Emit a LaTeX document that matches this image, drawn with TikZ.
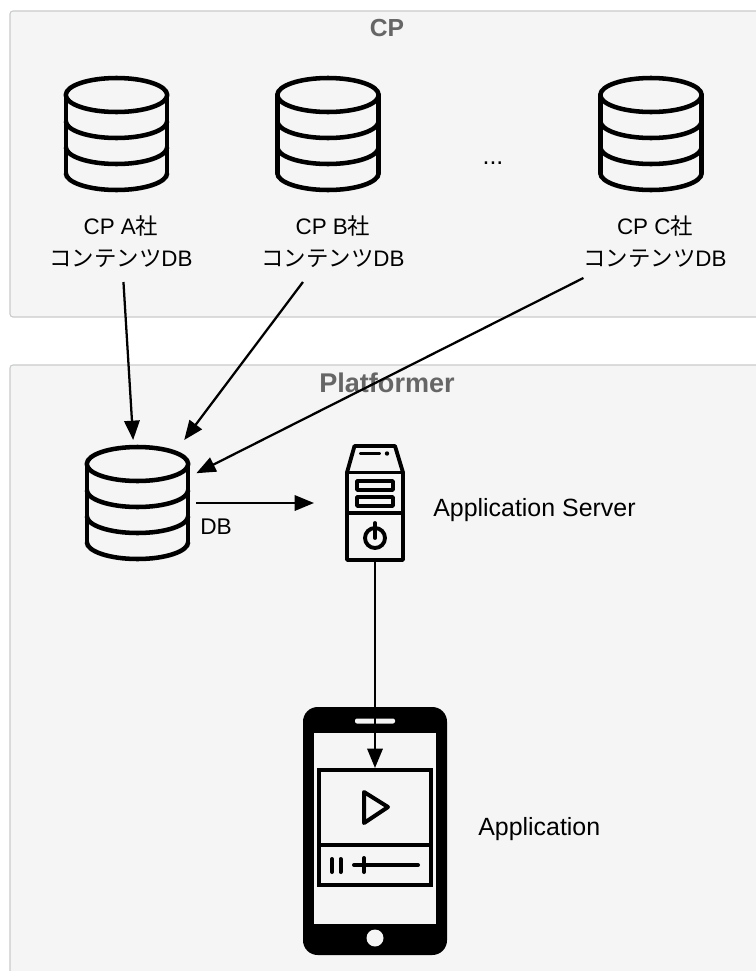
\documentclass[tikz,border=0pt]{standalone}
\usepackage{fontspec}
\setmainfont{Liberation Sans}
\newfontfamily\jp{Noto Sans CJK JP}
\usetikzlibrary{arrows.meta}
\tikzset{
  x=0.75pt,y=-0.75pt,
  panel/.style={draw=panelline,fill=panelfill,line width=0.8pt,rounded corners=2.2pt},
  paneltitle/.style={font=\fontsize{18.5pt}{20pt}\selectfont\bfseries,text=titlegrey,inner sep=0pt},
  lbl/.style={font=\fontsize{18.7pt}{24pt}\selectfont,inner sep=0pt,text=black},
  cplabel/.style={font=\fontsize{16.8pt}{24pt}\selectfont,align=center,inner sep=0pt,outer sep=0pt,minimum width=106.5pt,minimum height=60pt},
  iconbox/.style={inner sep=0pt,outer sep=0pt,draw=none},
  conn/.style={line width=1.7pt,-{Triangle[length=14.5pt,width=11.5pt]}},
  icon/.style={line width=3.4pt,line join=round,line cap=round},
  band/.style={line width=3.4pt,line cap=butt},
  thin icon/.style={line width=2.9pt,line join=round,line cap=round},
  pics/dbicon/.style={code={
    \draw[icon] (0,0) ellipse[x radius=50.7,y radius=17];
    \draw[icon] (-50.7,0) -- (-50.7,78);
    \draw[icon] (50.7,0) -- (50.7,78);
    \draw[band] (-50.7,26) .. controls (-50.7,35.4) and (-28,43) .. (0,43) .. controls (28,43) and (50.7,35.4) .. (50.7,26);
    \draw[band] (-50.7,52) .. controls (-50.7,61.4) and (-28,69) .. (0,69) .. controls (28,69) and (50.7,61.4) .. (50.7,52);
    \draw[band] (-50.7,78) .. controls (-50.7,87.4) and (-28,95) .. (0,95) .. controls (28,95) and (50.7,87.4) .. (50.7,78);
  }}
}
\definecolor{panelline}{HTML}{C9CCCC}
\definecolor{panelfill}{HTML}{F5F5F5}
\definecolor{titlegrey}{HTML}{666666}
\begin{document}
\begin{tikzpicture}
\useasboundingbox (0,0) rectangle (756,971);
\clip (0,0) rectangle (756,971);
\fill[white] (0,0) rectangle (756,971);
% panels
\draw[panel] (10,11) rectangle (790,317);
\draw[panel] (10,365) rectangle (790,1010);
\node[paneltitle] (cptitle) at (387,28) {CP};
\node[paneltitle,font=\fontsize{20.3pt}{22pt}\selectfont\bfseries] (pftitle) at (387,383) {Platformer};
% top databases
\pic at (116.5,95) {dbicon};
\pic at (328,95) {dbicon};
\pic at (651,95) {dbicon};
\node[lbl] (dots) at (493,163) {...};
\node[cplabel] (cpa) at (121,242) {CP A{\jp 社}\\{\jp コンテンツ}DB};
\node[cplabel] (cpb) at (333,242) {CP B{\jp 社}\\{\jp コンテンツ}DB};
\node[cplabel] (cpc) at (655,242) {CP C{\jp 社}\\{\jp コンテンツ}DB};
% platform database
\pic at (137.5,464) {dbicon};
\node[iconbox,minimum width=89pt,minimum height=94.5pt] (pfdb) at (137,503) {};
\node[lbl,anchor=west,font=\fontsize{17pt}{24pt}\selectfont] (dblabel) at (200,527) {DB};
% server
\node[iconbox,minimum width=91.5pt,minimum height=88.5pt] (server) at (375,503) {};
\draw[thin icon] (354.5,446) -- (395,446) -- (403,472.5) -- (403,560) -- (347,560) -- (347,472.5) -- cycle;
\draw[thin icon] (347,472.5) -- (403,472.5);
\draw[thin icon] (347,513) -- (403,513);
\draw[thin icon] (361,453.5) -- (379,453.5);
\fill (387,453.5) circle[radius=2.2];
\draw[line width=2.7pt,line join=round] (357,481) rectangle (393,490);
\draw[line width=2.7pt,line join=round] (357,497) rectangle (393,506);
\draw[thin icon] (375,538) circle[radius=10];
\draw[thin icon] (375,523) -- (375,538);
\node[lbl,anchor=west] (serverlabel) at (433,510) {Application Server};
% phone
\fill[black,rounded corners=11pt] (303,707) rectangle (447,955);
\fill[panelfill] (314,733) rectangle (436,924);
\fill[panelfill,rounded corners=1.5pt] (355,718.5) rectangle (395,723.5);
\fill[panelfill] (375,938) circle[radius=8.5];
\node[iconbox,minimum width=87pt,minimum height=89.25pt] (player) at (375,827.5) {};
\draw[line width=3pt] (319,770) rectangle (431,885);
\draw[line width=3pt] (319,845) -- (431,845);
\draw[icon,line width=3pt] (364,792) -- (364,823) -- (388,807) -- cycle;
\draw[icon,line width=3pt] (332,859) -- (332,872);
\draw[icon,line width=3pt] (340.5,859) -- (340.5,872);
\draw[icon,line width=3pt] (354,865) -- (418,865);
\draw[icon,line width=3pt] (364,858) -- (364,872);
\node[lbl,anchor=west] (applabel) at (478,829) {Application};
% connectors
\draw[conn] (cpa) -- (pfdb);
\draw[conn] (cpb) -- (pfdb);
\draw[conn] (cpc) -- (pfdb);
\draw[conn] (pfdb) -- (server);
\draw[conn] (server) -- (player);
\end{tikzpicture}
\end{document}
